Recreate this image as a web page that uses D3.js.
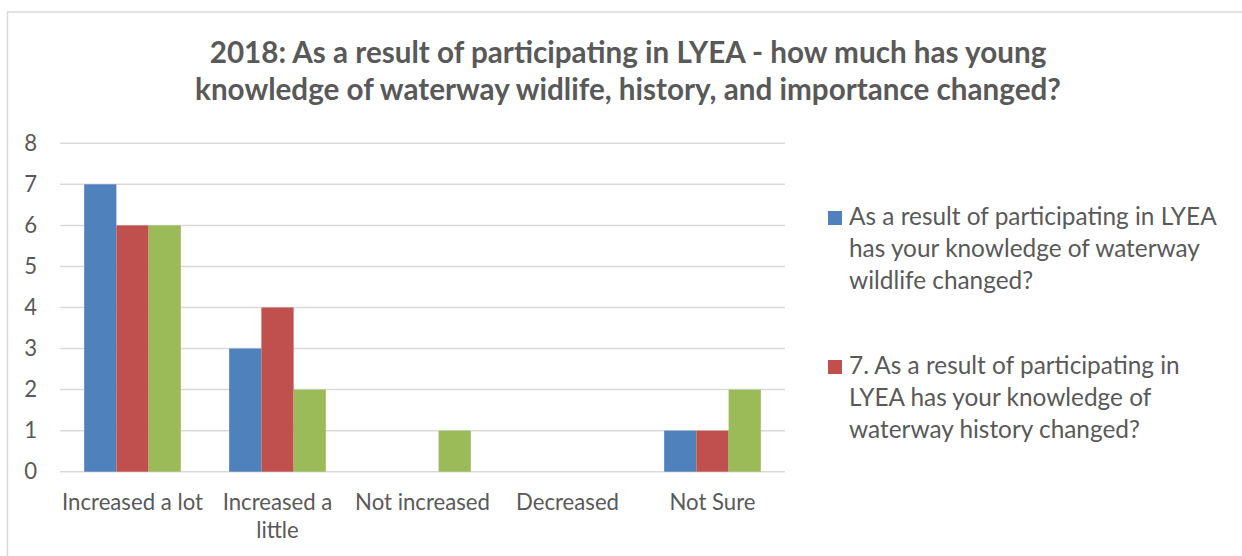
<!DOCTYPE html>
<html><head><meta charset="utf-8">
<script src="https://cdn.jsdelivr.net/npm/d3@7"></script>
<style>body{margin:0;background:#fff}svg{display:block}</style>
</head><body>
<svg id="c" width="1242" height="556"></svg>
<script>
const categories = ["Increased a lot", "Increased a little", "Not increased", "Decreased", "Not Sure"];
const seriesNames = [
  "As a result of participating in LYEA has your knowledge of waterway wildlife changed?",
  "7. As a result of participating in LYEA has your knowledge of waterway history changed?",
  "As a result of participating in LYEA has your knowledge of waterway importance changed?"
];
const wildlife = [7, 3, 0, 0, 1];
const history = [6, 4, 0, 0, 1];
const importance = [6, 2, 1, 0, 2];
const yTicks = [0, 1, 2, 3, 4, 5, 6, 7, 8];
const titleLines = ["2018: As a result of participating in LYEA - how much has young",
  "knowledge of waterway widlife, history, and importance changed?"];
const legendLines = [
  ["As a result of participating in LYEA", "has your knowledge of waterway", "wildlife changed?"],
  ["7. As a result of participating in", "LYEA has your knowledge of", "waterway history changed?"]
];
const colors = ["#4f81bd", "#c0504d", "#9bbb59"];
const seriesValues = [wildlife, history, importance];

const FONT = "Lato, 'Open Sans', sans-serif";
const TXT = "#595959";
const svg = d3.select("#c");

// chart border
svg.append("rect").attr("x", 7.5).attr("y", 12).attr("width", 1400).attr("height", 700)
  .attr("fill", "#fff").attr("stroke", "#d9d9d9").attr("stroke-width", 1.5);

// measure helper
function sizeFor(text, weight, targetW) {
  const t = svg.append("text").attr("font-family", FONT).attr("font-weight", weight)
    .attr("font-size", 100).text(text);
  const w = t.node().getComputedTextLength();
  t.remove();
  return 100 * targetW / w;
}

const x0 = d3.scaleBand().domain(categories).range([60, 785]);
const x1 = d3.scaleBand().domain([0, 1, 2]).range([0, x0.bandwidth()]).paddingOuter(0.75).paddingInner(0);
const y = d3.scaleLinear().domain([0, 8]).range([471.7, 143.3]);

// gridlines
svg.append("g").selectAll("line").data(yTicks).join("line")
  .attr("x1", 60).attr("x2", 785)
  .attr("y1", d => y(d)).attr("y2", d => y(d))
  .attr("stroke", "#d9d9d9").attr("stroke-width", 1.5);

// bars
const groups = svg.append("g").selectAll("g").data(categories).join("g")
  .attr("transform", d => `translate(${x0(d)},0)`);
groups.selectAll("rect").data((d, i) => seriesValues.map((s, k) => ({k, v: s[i]})))
  .join("rect")
  .attr("x", d => x1(d.k)).attr("width", x1.bandwidth())
  .attr("y", d => y(d.v)).attr("height", d => y(0) - y(d.v))
  .attr("fill", d => colors[d.k]);

// axis label font size
const axisSize = sizeFor("Increased a lot", 400, 141);

// y tick labels
svg.append("g").selectAll("text").data(yTicks).join("text")
  .attr("x", 37).attr("y", d => y(d)).attr("dy", "0.35em")
  .attr("text-anchor", "end").attr("font-family", FONT).attr("font-size", axisSize)
  .attr("fill", TXT).text(d => d);

// x labels with wrap
const xl = svg.append("g").selectAll("text").data(categories).join("text")
  .attr("x", d => x0(d) + x0.bandwidth() / 2).attr("y", 510)
  .attr("text-anchor", "middle").attr("font-family", FONT).attr("font-size", axisSize)
  .attr("fill", TXT);
xl.each(function(d) {
  const t = d3.select(this);
  const words = d.split(" ");
  let line = [], lines = [];
  const probe = t.append("tspan");
  words.forEach(w => {
    const cand = line.concat([w]).join(" ");
    probe.text(cand);
    if (probe.node().getComputedTextLength() > x0.bandwidth() && line.length) {
      lines.push(line.join(" ")); line = [w];
    } else line.push(w);
  });
  lines.push(line.join(" "));
  probe.remove();
  lines.forEach((l, i) => t.append("tspan").attr("x", x0(d) + x0.bandwidth() / 2)
    .attr("dy", i ? 28 : 0).text(l));
});

// title
const titleSize = sizeFor(titleLines[0], 700, 837);
svg.append("g").selectAll("text").data(titleLines).join("text")
  .attr("x", 628).attr("y", (d, i) => 63 + i * 37).attr("text-anchor", "middle")
  .attr("font-family", FONT).attr("font-weight", 700).attr("font-size", titleSize)
  .attr("fill", TXT).text(d => d);

// legend
const legSize = sizeFor(legendLines[0][0], 400, 368);
const legTop = [211, 360];
legendLines.forEach((lines, k) => {
  const g = svg.append("g");
  g.append("rect").attr("x", 828).attr("y", legTop[k]).attr("width", 14).attr("height", 14)
    .attr("fill", colors[k]);
  g.selectAll("text").data(lines).join("text")
    .attr("x", 849).attr("y", (d, i) => legTop[k] + 14 + i * 32)
    .attr("font-family", FONT).attr("font-size", legSize).attr("fill", TXT).text(d => d);
});
</script>
</body></html>
